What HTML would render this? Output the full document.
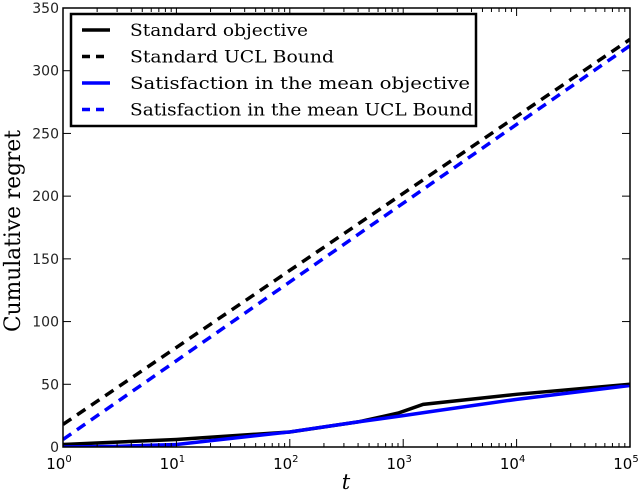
<!DOCTYPE html>
<html><head><meta charset="utf-8"><style>
body{margin:0;background:#fff;}
svg text{font-family:"DejaVu Sans","Liberation Sans",sans-serif;}
svg text.serif{font-family:"DejaVu Serif","Liberation Serif",serif;}
</style></head><body>
<svg id="c" width="640" height="493" xmlns="http://www.w3.org/2000/svg"></svg>
<script>
const xLogs=[0,1,2,3,4,5];
const yTicks=[0,50,100,150,200,250,300,350];
const tStd=[1,10,100,400,900,1500,10000,100000];
const stdObj=[2,6,12,20,27,34,42,50];
const tSat=[1,3,10,100,400,1000,2000,10000,100000];
const satObj=[0,0.5,2,12,20,25,29,38,49];
const tUcl=[1,100000];
const stdUcl=[18,325];
const satUcl=[6,320];
const L=63,R=630,T=8,B=447;
const sx=t=>L+(Math.log10(t)/5)*(R-L);
const sy=v=>B-(v/350)*(B-T);
const svg=document.getElementById('c');
const NS='http://www.w3.org/2000/svg';
function mk(tag,attrs,parent){const e=document.createElementNS(NS,tag);for(const k in attrs)e.setAttribute(k,attrs[k]);(parent||svg).appendChild(e);return e;}
const defs=mk('defs',{});const cp=mk('clipPath',{id:'cl'},defs);mk('rect',{x:L,y:T,width:R-L,height:B-T},cp);
const g=mk('g',{'clip-path':'url(#cl)'});
function lineG(ts,vs,color,dash,name){
  const p=mk('polyline',{points:ts.map((t,i)=>sx(t)+','+sy(vs[i])).join(' '),fill:'none',stroke:color,'stroke-width':3.5,'stroke-dasharray':dash||'none'},g);
  
  
}
lineG(tUcl,stdUcl,'#000','10,7','standard-ucl-line');
lineG(tUcl,satUcl,'#0000ff','10,7','satisfaction-ucl-line');
lineG(tStd,stdObj,'#000','','standard-objective-line');
lineG(tSat,satObj,'#0000ff','','satisfaction-objective-line');
xLogs.forEach(k=>{
  const x=sx(Math.pow(10,k));
  mk('line',{x1:x,x2:x,y1:B,y2:B-8,stroke:'#000'});mk('line',{x1:x,x2:x,y1:T,y2:T+8,stroke:'#000'});
  if(k<5)for(let m=2;m<10;m++){const xm=sx(m*Math.pow(10,k));mk('line',{x1:xm,x2:xm,y1:B,y2:B-4,stroke:'#000'});mk('line',{x1:xm,x2:xm,y1:T,y2:T+4,stroke:'#000'});}
  const tx=mk('text',{x:x-4,y:B+22,'text-anchor':'middle','font-size':15});
  
  
  tx.innerHTML='10<tspan dy="-7" font-size="10">'+k+'</tspan>';
});
yTicks.forEach(v=>{
  const y=sy(v);
  mk('line',{x1:L,x2:L+8,y1:y,y2:y,stroke:'#000'});mk('line',{x1:R,x2:R-8,y1:y,y2:y,stroke:'#000'});
  const tx=mk('text',{x:L-4,y:y+5,'text-anchor':'end','font-size':14,fill:'#222'});
  
  
  tx.textContent=v;
});
const fr=mk('rect',{x:L,y:T,width:R-L,height:B-T,fill:'none',stroke:'#000','stroke-width':1.5});


const xl=mk('text',{x:346,y:489,'text-anchor':'middle','font-size':21,'font-style':'italic',class:'serif'});


xl.textContent='t';
const yl=mk('text',{x:20,y:231,'text-anchor':'middle','font-size':22,class:'serif',transform:'rotate(-90 20 231)',textLength:202,lengthAdjust:'spacingAndGlyphs'});


yl.textContent='Cumulative regret';
const lg=mk('g',{});


mk('rect',{x:71,y:14,width:405,height:112,fill:'#fff',stroke:'#000','stroke-width':2.5},lg);
const items=[['Standard objective','#000','',178],['Standard UCL Bound','#000','8,6',204],['Satisfaction in the mean objective','#0000ff','',340],['Satisfaction in the mean UCL Bound','#0000ff','8,6',343]];
items.forEach((it,i)=>{
  const y=30+i*26.5;
  mk('line',{x1:82,x2:110,y1:y,y2:y,stroke:it[1],'stroke-width':3.5,'stroke-dasharray':it[2]||'none'},lg);
  const t=mk('text',{x:130,y:y+6,'font-size':17,class:'serif',textLength:it[3],lengthAdjust:'spacingAndGlyphs'},lg);
  
  
  t.textContent=it[0];
});
</script>
</body></html>
